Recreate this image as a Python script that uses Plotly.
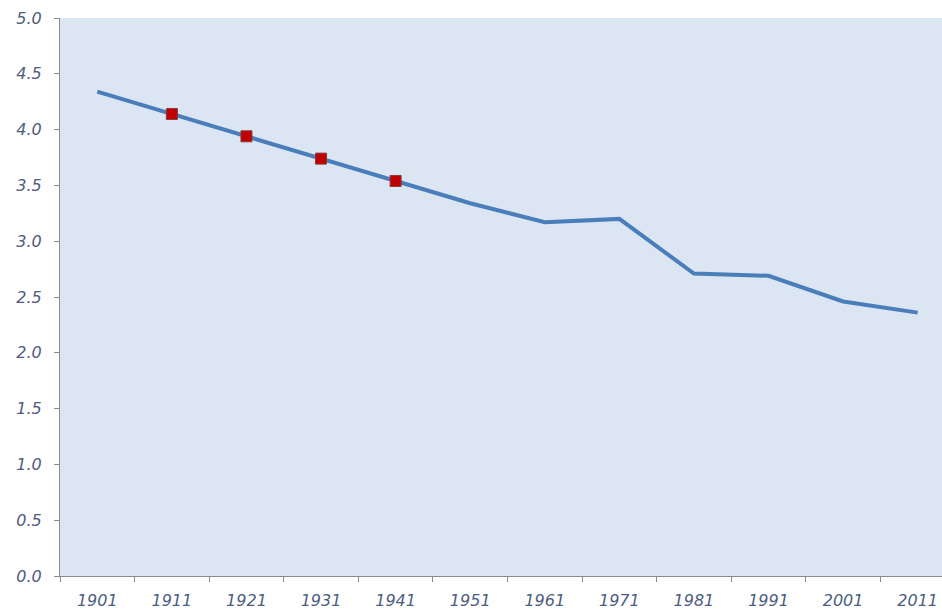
import plotly.graph_objects as go

years = ["1901", "1911", "1921", "1931", "1941", "1951", "1961", "1971", "1981", "1991", "2001", "2011"]
values = [4.34, 4.14, 3.94, 3.74, 3.54, 3.34, 3.17, 3.20, 2.71, 2.69, 2.46, 2.36]
marked_years = ["1911", "1921", "1931", "1941"]
marked_values = [values[years.index(y)] for y in marked_years]
y_ticks = [0.0, 0.5, 1.0, 1.5, 2.0, 2.5, 3.0, 3.5, 4.0, 4.5, 5.0]

font_lbl = dict(family="DejaVu Sans", size=16, color="#4d5d80", style="italic")

fig = go.Figure()
fig.add_trace(go.Scatter(x=years, y=values, mode="lines",
                         line=dict(color="#4a7ebb", width=4), showlegend=False))
fig.add_trace(go.Scatter(x=marked_years, y=marked_values, mode="markers",
                         marker=dict(symbol="square", size=11, color="#c00000",
                                     line=dict(color="#8a3b3b", width=1)),
                         showlegend=False))

fig.update_layout(
    width=942, height=614,
    margin=dict(l=60, r=0, t=18, b=38),
    paper_bgcolor="white", plot_bgcolor="#dce6f2",
    xaxis=dict(type="category", range=[-0.5, 11.326], tickson="boundaries",
               ticks="outside", ticklen=5, tickcolor="#8c8c8c",
               showline=True, linecolor="#8c8c8c", linewidth=1,
               showgrid=False, tickfont=font_lbl, ticklabelstandoff=10),
    yaxis=dict(range=[0, 5], tickvals=y_ticks, ticktext=[f"{v:.1f}" for v in y_ticks],
               ticks="outside", ticklen=5, tickcolor="#8c8c8c",
               showline=True, linecolor="#8c8c8c", linewidth=1,
               showgrid=False, zeroline=False, tickfont=font_lbl, ticklabelstandoff=9),
)

fig.write_html("out.html")
